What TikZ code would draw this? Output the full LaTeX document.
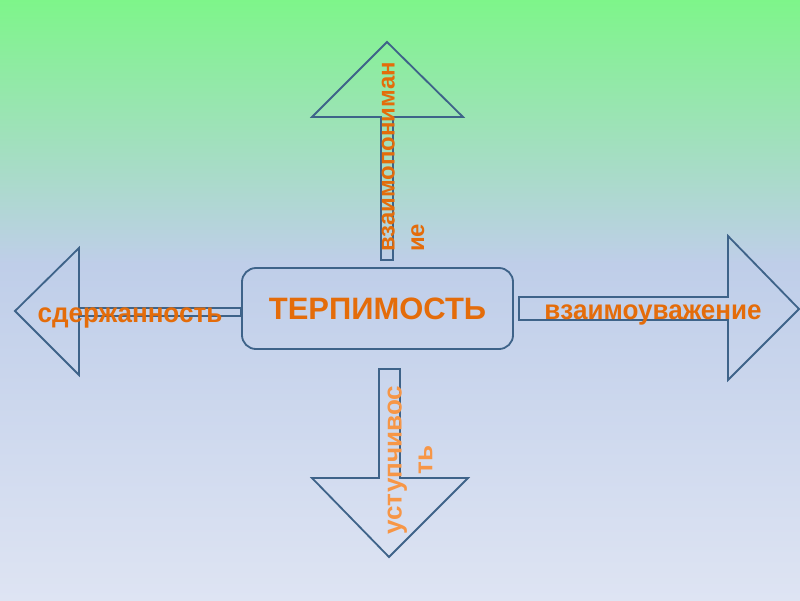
\documentclass[tikz,border=0pt]{standalone}
\usepackage{fontspec}
\setmainfont{Liberation Sans}
\newfontfamily\narrowbold[FakeStretch=0.95]{Liberation Sans}
\usetikzlibrary{positioning}
\definecolor{bgtop}{HTML}{7EF58A}
\definecolor{bgmid}{HTML}{BFCEE9}
\definecolor{bgbot}{HTML}{DEE4F3}
\definecolor{edgeblue}{HTML}{3E6389}
\definecolor{wordorange}{HTML}{E46C0A}
\definecolor{lightorange}{HTML}{F79646}
\pgfdeclareverticalshading{slidebg}{100bp}{color(0bp)=(bgbot); color(25bp)=(bgbot);
  color(53bp)=(bgmid); color(75bp)=(bgtop); color(100bp)=(bgtop)}
\tikzset{
  blockarrow/.style={draw=edgeblue,line width=1.3pt,line join=miter},
  wordlabel/.style={text=wordorange,inner sep=0pt,
    font=\narrowbold\bfseries\fontsize{19.5}{22}\selectfont},
}

\begin{document}
\begin{tikzpicture}[x=0.025cm,y=-0.025cm]
\useasboundingbox (0,0) rectangle (800,600);
\shade[shading=slidebg] (0,0) rectangle (800,600);
% central box
\node[draw=edgeblue,line width=1.3pt,rounded corners=10pt,
  minimum width=6.775cm,minimum height=2.025cm,text=wordorange,
  font=\bfseries\fontsize{22}{26}\selectfont] (core) at (377.5,308.5) {ТЕРПИМОСТЬ};
% block arrows
\draw[blockarrow] (381,260) -- (381,117) -- (312,117) -- (387,42) -- (463,117)
  -- (393,117) -- (393,260) -- cycle;
\draw[blockarrow] (379,369) -- (400,369) -- (400,478) -- (468,478) -- (389,557)
  -- (312,478) -- (379,478) -- cycle;
\draw[blockarrow] (core.west |- 0,308) -- (79,308) -- (79,248) -- (15,311) -- (79,375)
  -- (79,316) -- (core.west |- 0,316) -- cycle;
\draw[blockarrow] (519,297) -- (728,297) -- (728,236) -- (799,309) -- (728,380)
  -- (728,320) -- (519,320) -- cycle;
% labels
\node[wordlabel,anchor=base] (restraint) at (130,322) {сдержанность};
\node[wordlabel,anchor=base] (respect) at (653,319) {взаимоуважение};
\node[wordlabel,rotate=90,align=left,font=\bfseries\fontsize{17}{21}\selectfont]
  (understanding) at (403,157) {взаимопониман\\ие};
\node[wordlabel,text=lightorange,rotate=90,align=center,
  font=\bfseries\fontsize{18.5}{22}\selectfont] (compliance) at (410,460) {уступчивос\\ть};
\end{tikzpicture}
\end{document}
